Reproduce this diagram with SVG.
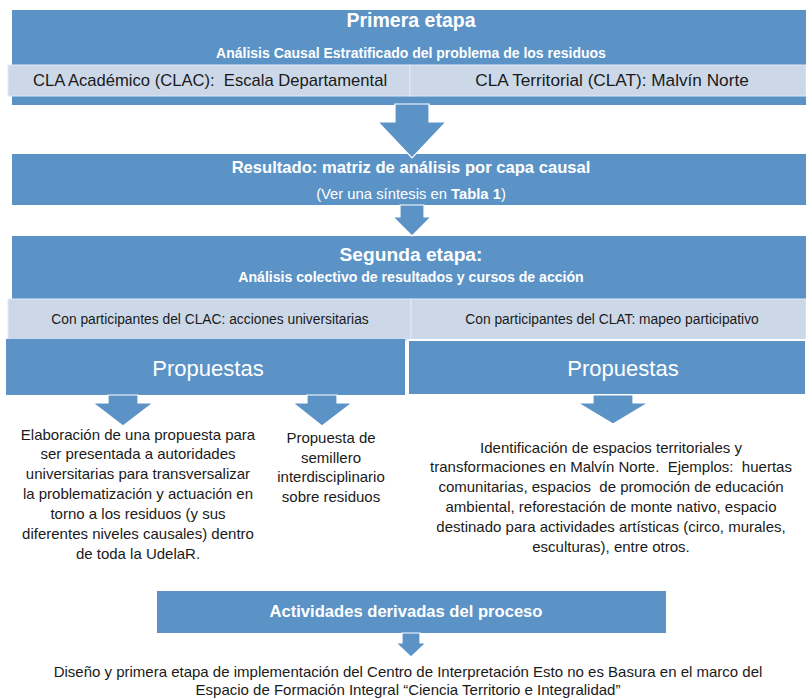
<svg xmlns="http://www.w3.org/2000/svg" width="806" height="698" viewBox="0 0 806 698" xml:space="preserve">
<style>
.blue{fill:#5B93C7}
.strip{fill:#CCD8E8;stroke:#E2E9F3;stroke-width:1}
.arrow{fill:#5B93C7;stroke:#FFFFFF;stroke-width:1.2;stroke-linejoin:miter}
text{font-family:"Liberation Sans",Arial,sans-serif;text-anchor:middle;white-space:pre}
.wb{fill:#FFFFFF;font-weight:bold}
.w{fill:#FFFFFF}
.k{fill:#1A1A1A}
</style>
<rect width="806" height="698" fill="#FFFFFF"/>
<g id="primera-etapa">
<rect class="blue" x="12" y="10" width="794" height="95"/>
<text class="wb" x="411" y="27" font-size="19.5">Primera etapa</text>
<text class="wb" x="411" y="58" font-size="14">Análisis Causal Estratificado del problema de los residuos</text>
</g>
<g id="clac">
<rect class="strip" x="8" y="65" width="402" height="31"/>
<text class="k" x="210" y="86" font-size="16.6">CLA Académico (CLAC):  Escala Departamental</text>
</g>
<g id="clat">
<rect class="strip" x="410" y="65" width="396" height="31"/>
<text class="k" x="612" y="86" font-size="17.2">CLA Territorial (CLAT): Malvín Norte</text>
</g>
<g id="resultado">
<rect class="blue" x="12" y="154" width="794" height="51"/>
<text class="wb" x="411" y="173" font-size="16.6">Resultado: matriz de análisis por capa causal</text>
<text class="w" x="411" y="199" font-size="14.8">(Ver una síntesis en <tspan font-weight="bold">Tabla 1</tspan>)</text>
</g>
<g id="segunda-etapa">
<rect class="blue" x="12" y="236" width="794" height="63"/>
<text class="wb" x="411" y="261" font-size="19.2">Segunda etapa:</text>
<text class="wb" x="411" y="282" font-size="14.1">Análisis colectivo de resultados y cursos de acción</text>
</g>
<g id="clac-acciones">
<rect class="strip" x="8" y="299" width="403" height="42"/>
<text class="k" x="210" y="324" font-size="13.8">Con participantes del CLAC: acciones universitarias</text>
</g>
<g id="clat-mapeo">
<rect class="strip" x="411" y="299" width="395" height="42"/>
<text class="k" x="612" y="324" font-size="13.8">Con participantes del CLAT: mapeo participativo</text>
</g>
<g id="propuestas-clac">
<rect class="blue" x="6" y="339" width="399" height="56"/>
<text class="w" x="208" y="376" font-size="22">Propuestas</text>
</g>
<g id="propuestas-clat">
<rect class="blue" x="408" y="340" width="398" height="55" stroke="#FFFFFF" stroke-width="2"/>
<text class="w" x="623" y="376" font-size="22">Propuestas</text>
</g>
<g id="propuesta-autoridades">
<text class="k" font-size="15"><tspan x="138" y="440">Elaboración de una propuesta para</tspan><tspan x="138" y="459">ser presentada a autoridades</tspan><tspan x="138" y="479">universitarias para transversalizar</tspan><tspan x="138" y="499">la problematización y actuación en</tspan><tspan x="138" y="519">torno a los residuos (y sus</tspan><tspan x="138" y="539">diferentes niveles causales) dentro</tspan><tspan x="138" y="559">de toda la UdelaR.</tspan></text>
</g>
<g id="propuesta-semillero">
<text class="k" font-size="15"><tspan x="331" y="443">Propuesta de</tspan><tspan x="331" y="463">semillero</tspan><tspan x="331" y="482">interdisciplinario</tspan><tspan x="331" y="502">sobre residuos</tspan></text>
</g>
<g id="espacios-territoriales">
<text class="k" font-size="15"><tspan x="611" y="453">Identificación de espacios territoriales y</tspan><tspan x="611" y="472">transformaciones en Malvín Norte.  Ejemplos:  huertas</tspan><tspan x="611" y="492">comunitarias, espacios  de promoción de educación</tspan><tspan x="611" y="512">ambiental, reforestación de monte nativo, espacio</tspan><tspan x="611" y="532">destinado para actividades artísticas (circo, murales,</tspan><tspan x="611" y="552">esculturas), entre otros.</tspan></text>
</g>
<g id="actividades">
<rect class="blue" x="157" y="591" width="509" height="42"/>
<text class="wb" x="406" y="617" font-size="16.6">Actividades derivadas del proceso</text>
</g>
<g id="diseno">
<text class="k" font-size="15"><tspan x="408" y="677">Diseño y primera etapa de implementación del Centro de Interpretación Esto no es Basura en el marco del</tspan><tspan x="408" y="695">Espacio de Formación Integral “Ciencia Territorio e Integralidad”</tspan></text>
</g>
<g id="connectors">
<polygon class="arrow" points="395,104 429,104 429,122 446,122 412,158 378,122 395,122"/>
<polygon class="arrow" points="400,205 424,205 424,217 431,217 412,236 393,217 400,217"/>
<polygon class="arrow" points="108,395 138,395 138,403 153,403 123,426 93,403 108,403"/>
<polygon class="arrow" points="307,395 337,395 337,403 352,403 322,426 293,403 307,403"/>
<polygon class="arrow" points="593,395 633,395 633,403 648,403 613,424 578,403 593,403"/>
<polygon class="arrow" points="402,633 420,633 420,643 426,643 411,657 396,643 402,643"/>
</g>
</svg>
